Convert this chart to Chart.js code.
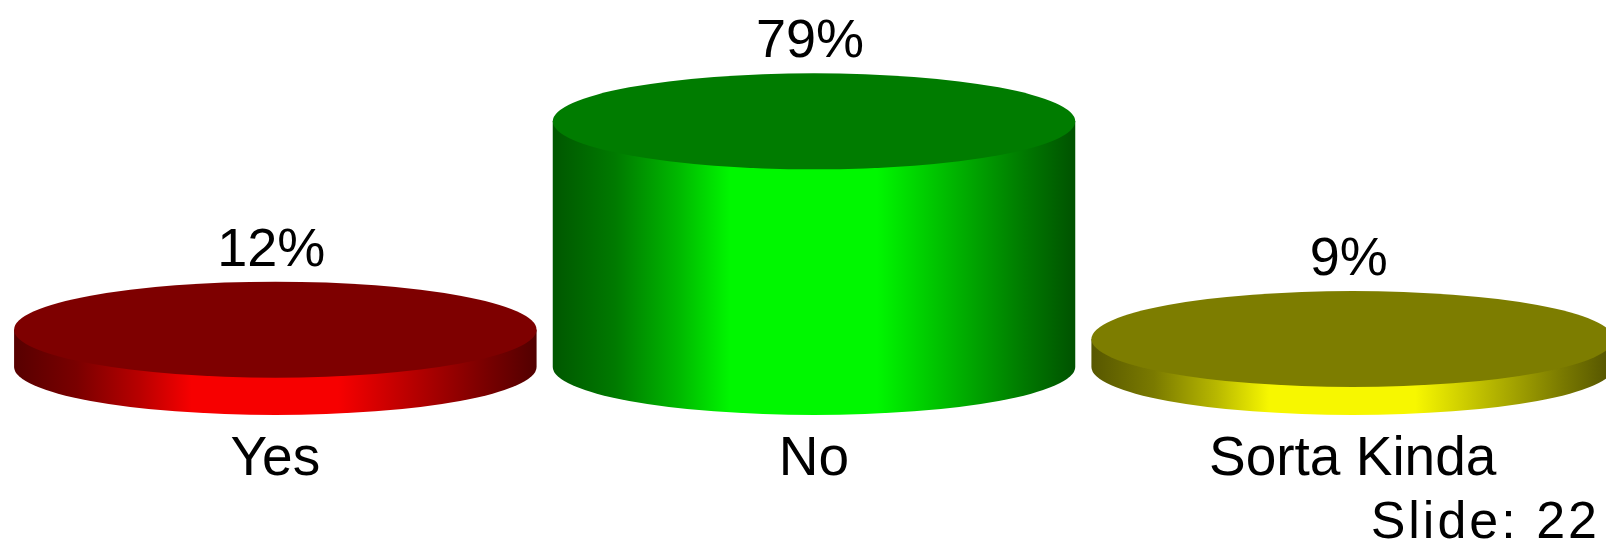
<!DOCTYPE html>
<html>
<head>
<meta charset="utf-8">
<script src="https://cdn.jsdelivr.net/npm/chart.js@4/dist/chart.umd.min.js"></script>
<style>
  html, body { margin: 0; padding: 0; background: #ffffff; overflow: hidden; }
  #wrap { position: relative; width: 1628px; height: 550px; }
</style>
</head>
<body>
<div id="wrap"><canvas id="pollChart"></canvas></div>
<script>
const categories = ['Yes', 'No', 'Sorta Kinda'];
const percentages = [12, 79, 9];
const topColors = ['#7e0000', '#007c00', '#7d7d00'];
const sideColors = [[255, 0, 0], [0, 255, 0], [255, 255, 0]];
const slideLabel = 'Slide: 22';

const FONT = '"Liberation Sans", Arial, sans-serif';
const RY = 48;

function shade(rgb, k) {
    return 'rgb(' + rgb.map(c => Math.round(c * k)).join(',') + ')';
}

function sideGradient(ctx, left, right, rgb) {
    const g = ctx.createLinearGradient(left, 0, right, 0);
    g.addColorStop(0.0, shade(rgb, 0.34));
    g.addColorStop(0.12, shade(rgb, 0.48));
    g.addColorStop(0.24, shade(rgb, 0.72));
    g.addColorStop(0.34, shade(rgb, 0.97));
    g.addColorStop(0.62, shade(rgb, 0.97));
    g.addColorStop(0.76, shade(rgb, 0.72));
    g.addColorStop(0.9, shade(rgb, 0.48));
    g.addColorStop(1.0, shade(rgb, 0.32));
    return g;
}

const cylinderPlugin = {
    id: 'cylinders',
    beforeDatasetsDraw(chart) {
        const ctx = chart.ctx;
        const meta = chart.getDatasetMeta(0);
        meta.data.forEach((bar, i) => {
            const rx = bar.width / 2;
            const left = bar.x - rx;
            const right = bar.x + rx;

            ctx.save();
            // side
            ctx.beginPath();
            ctx.moveTo(left, bar.y);
            ctx.lineTo(left, bar.base);
            ctx.ellipse(bar.x, bar.base, rx, RY, 0, Math.PI, 0, true);
            ctx.lineTo(right, bar.y);
            ctx.closePath();
            ctx.fillStyle = sideGradient(ctx, left, right, sideColors[i]);
            ctx.fill();

            // top face
            ctx.beginPath();
            ctx.ellipse(bar.x, bar.y, rx, RY, 0, 0, Math.PI * 2);
            ctx.fillStyle = topColors[i];
            ctx.fill();

            // value label
            ctx.fillStyle = '#000000';
            ctx.font = '54px ' + FONT;
            ctx.textAlign = 'center';
            ctx.textBaseline = 'alphabetic';
            ctx.fillText(percentages[i] + '%', bar.x - 4, bar.y - RY - 16);
            ctx.restore();
        });
        return false;
    },
    afterDraw(chart) {
        const ctx = chart.ctx;
        ctx.save();
        ctx.fillStyle = '#000000';
        ctx.font = '52px ' + FONT;
        ctx.letterSpacing = '3px';
        ctx.textAlign = 'right';
        ctx.textBaseline = 'alphabetic';
        ctx.fillText(slideLabel, 1600, 538);
        ctx.restore();
    }
};

function createPollChart() {
    const pollCtx = document.getElementById('pollChart').getContext('2d');

    const pollChartConfig = {
        type: 'bar',
        data: {
            labels: categories,
            datasets: [{
                data: percentages,
                backgroundColor: topColors,
                categoryPercentage: 1.0,
                barPercentage: 0.97
            }]
        },
        options: {
            responsive: true,
            maintainAspectRatio: false,
            animation: false,
            layout: { padding: { top: 56, left: 6, right: 6, bottom: 0 } },
            plugins: {
                legend: { display: false },
                tooltip: { enabled: false }
            },
            scales: {
                x: {
                    grid: { display: false, drawTicks: false },
                    border: { display: false },
                    ticks: {
                        color: '#000000',
                        padding: 60,
                        font: { family: FONT, size: 55 }
                    },
                    afterFit(scale) { scale.height = 183; }
                },
                y: {
                    display: false,
                    min: 0,
                    max: 100
                }
            }
        },
        plugins: [cylinderPlugin]
    };

    new Chart(pollCtx, pollChartConfig);
}

createPollChart();
</script>
</body>
</html>
